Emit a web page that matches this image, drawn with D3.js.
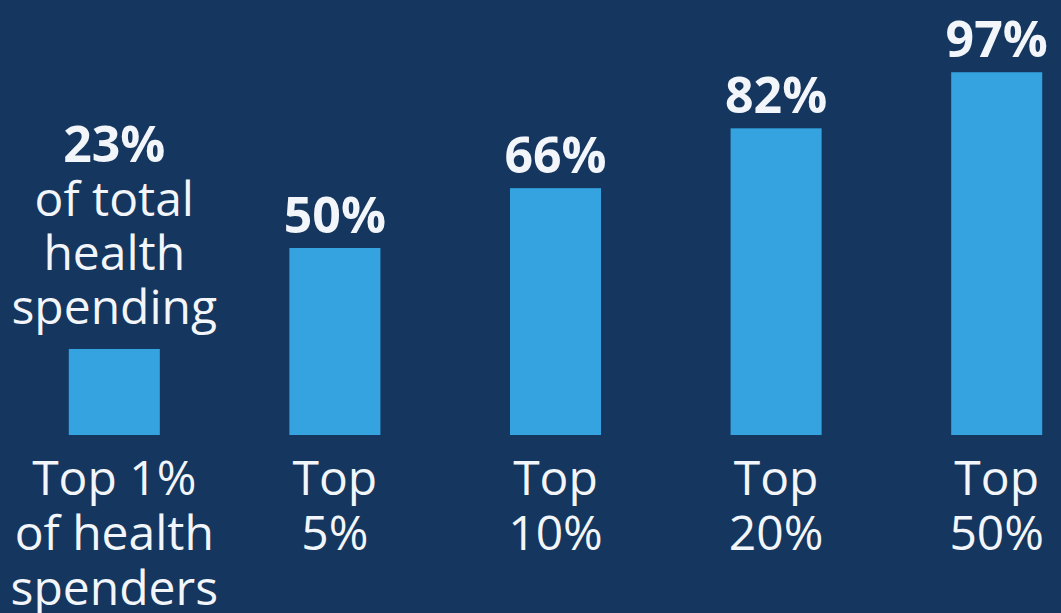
<!DOCTYPE html>
<html>
<head>
<meta charset="utf-8">
<script src="https://cdn.jsdelivr.net/npm/d3@7"></script>
<style>
  html, body { margin: 0; padding: 0; background: #15365e; }
  svg { display: block; }
  text { font-family: "Open Sans", "Noto Sans", sans-serif; fill: #f2f5f9; }
</style>
</head>
<body>
<svg id="chart" width="1061" height="613"></svg>
<script>
// Share of total health spending accounted for by the top spenders
const groups = ["Top 1%", "Top 5%", "Top 10%", "Top 20%", "Top 50%"];
const shares = [23, 50, 66, 82, 97];
const groupLines = [
  ["Top 1%", "of health", "spenders"],
  ["Top", "5%"],
  ["Top", "10%"],
  ["Top", "20%"],
  ["Top", "50%"]
];
const firstNote = ["of total", "health", "spending"];

const W = 1061, H = 613;
const svg = d3.select("#chart");

svg.append("rect").attr("width", W).attr("height", H).attr("fill", "#15365e");

const x = d3.scaleBand()
  .domain(groups)
  .range([4, 1107])
  .paddingInner(0.5873)
  .paddingOuter(0.29365);

const y = d3.scaleLinear().domain([0, 100]).range([435, 61]);

const data = groups.map((g, i) => ({ g, v: shares[i], lines: groupLines[i], i }));

// bars
svg.selectAll("rect.bar")
  .data(data)
  .join("rect")
  .attr("class", "bar")
  .attr("x", d => x(d.g))
  .attr("y", d => y(d.v))
  .attr("width", x.bandwidth())
  .attr("height", d => y(0) - y(d.v))
  .attr("fill", "#34a3e0");

// value labels above bars
const lineH = 54;
data.forEach(d => {
  const cx = x(d.g) + x.bandwidth() / 2;
  const top = y(d.v);
  if (d.i === 0) {
    const base = top - 25;
    const n = firstNote.length;
    svg.append("text")
      .attr("x", cx).attr("y", base - n * lineH)
      .attr("text-anchor", "middle")
      .attr("font-size", 50).attr("font-weight", 700)
      .text(d.v + "%");
    firstNote.forEach((t, k) => {
      svg.append("text")
        .attr("x", cx).attr("y", base - (n - 1 - k) * lineH)
        .attr("text-anchor", "middle")
        .attr("font-size", 48)
        .text(t);
    });
  } else {
    svg.append("text")
      .attr("x", cx).attr("y", top - 15)
      .attr("text-anchor", "middle")
      .attr("font-size", 50).attr("font-weight", 700)
      .text(d.v + "%");
  }
});

// category labels under bars
data.forEach(d => {
  const cx = x(d.g) + x.bandwidth() / 2;
  d.lines.forEach((t, k) => {
    svg.append("text")
      .attr("x", cx).attr("y", y(0) + 60 + k * 55)
      .attr("text-anchor", "middle")
      .attr("font-size", 48)
      .text(t);
  });
});
</script>
</body>
</html>
